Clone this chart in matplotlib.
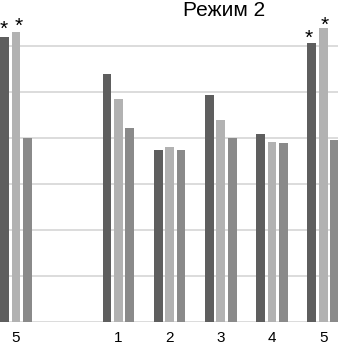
import matplotlib
matplotlib.use("Agg")
import matplotlib.pyplot as plt
import numpy as np

plt.rcParams['font.family'] = ['Liberation Sans', 'DejaVu Sans']

# group positions: last group of the previous panel, then groups 1..5 of "Режим 2"
positions = [0, 2, 3, 4, 5, 6]
tick_labels = ["5", "1", "2", "3", "4", "5"]

series_dark = [6.19, 5.40, 3.74, 4.93, 4.10, 6.07]
series_light = [6.30, 4.84, 3.80, 4.40, 3.91, 6.40]
series_mid = [4.01, 4.21, 3.74, 4.00, 3.89, 3.96]

# asterisks: (group index, series index)
stars = [(0, 0), (0, 1), (5, 0), (5, 1)]

colors = ["#5e5e5e", "#b2b2b2", "#8a8a8a"]
width = 0.172
step = 0.222

fig = plt.figure(figsize=(3.38, 3.48), dpi=100)
ax = fig.add_axes([0, 25.7 / 348, 1, 322.3 / 348])

x = np.array(positions, dtype=float)
all_series = [series_dark, series_light, series_mid]
for i, (vals, c) in enumerate(zip(all_series, colors)):
    ax.bar(x + (i - 1) * step, vals, width=width, color=c, zorder=3)

star_dx = [-0.01, 0.06, -0.07, 0.03]
star_dy = [0.05, 0.0, -0.02, -0.06]
for (g, s), dx, dy in zip(stars, star_dx, star_dy):
    xs = x[g] + (s - 1) * step + dx
    ax.text(xs, all_series[s][g] + dy, "*", ha="center", va="baseline",
            fontsize=15, color="black", zorder=4)

for yv in range(1, 7):
    ax.axhline(yv, color="#d9d9d9", lw=1.3, zorder=1)
ax.axhline(0, color="#d9d9d9", lw=1.3, zorder=1)

ax.set_xlim(-16 / 51.2, 322 / 51.2)
ax.set_ylim(0, 7)
ax.set_xticks(x)
ax.set_xticklabels(tick_labels, fontsize=11)
ax.tick_params(axis="x", length=0, pad=6)
ax.set_yticks([])
for sp in ax.spines.values():
    sp.set_visible(False)

fig.text(224 / 338, 1 - 11 / 348, "Режим 2", ha="center", va="center", fontsize=15)

fig.savefig("out.png", dpi=100)
